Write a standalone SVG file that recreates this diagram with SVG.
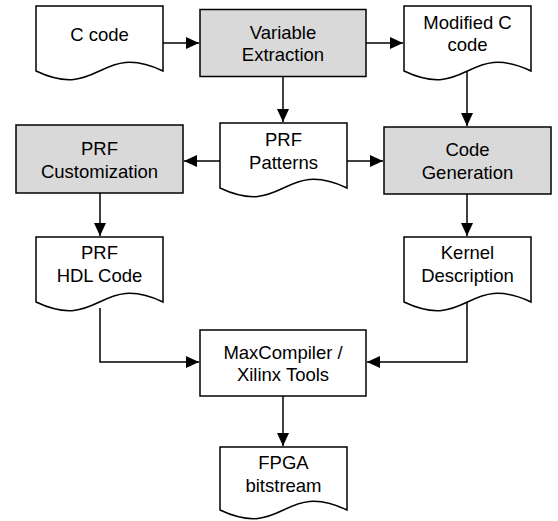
<svg xmlns="http://www.w3.org/2000/svg" width="558" height="521" viewBox="0 0 558 521">
<style>
.doc{fill:#fff;stroke:#000;stroke-width:1.5}
.box{fill:#d9d9d9;stroke:#000;stroke-width:1.5}
.wbox{fill:#fff;stroke:#000;stroke-width:1.5}
.c{fill:none;stroke:#000;stroke-width:1.5}
text{font-family:"Liberation Sans",Arial,sans-serif;font-size:18.5px;text-anchor:middle;fill:#000}
</style>
<defs>
<marker id="ah" markerUnits="userSpaceOnUse" markerWidth="14" markerHeight="12" refX="13" refY="6" orient="auto">
<path d="M0,0 L13,6 L0,12 z" fill="#000"/>
</marker>
</defs>
<rect width="558" height="521" fill="#fff"/>
<g id="connectors">
<path class="c" d="M163,43 H199" marker-end="url(#ah)"/>
<path class="c" d="M366,43 H403" marker-end="url(#ah)"/>
<path class="c" d="M283,76 V122" marker-end="url(#ah)"/>
<path class="c" d="M467,64 V126" marker-end="url(#ah)"/>
<path class="c" d="M220,161 H184" marker-end="url(#ah)"/>
<path class="c" d="M347,161 H383" marker-end="url(#ah)"/>
<path class="c" d="M100,193 V236" marker-end="url(#ah)"/>
<path class="c" d="M467,194 V236" marker-end="url(#ah)"/>
<path class="c" d="M100,308 V362 H199" marker-end="url(#ah)"/>
<path class="c" d="M467,296 V362 H367" marker-end="url(#ah)"/>
<path class="c" d="M283,396 V446" marker-end="url(#ah)"/>
</g>
<g id="ccode">
<path class="doc" d="M36,6 H163 V71 C99.5,41 99.5,101 36,71 Z"/>
<text x="99.5" y="40.5">C code</text>
</g>
<g id="varext">
<rect class="box" x="200" y="9.5" width="166" height="67"/>
<text x="283" y="38.5">Variable</text>
<text x="283" y="60.5">Extraction</text>
</g>
<g id="modc">
<path class="doc" d="M404,6 H531 V71 C467.5,41 467.5,101 404,71 Z"/>
<text x="467.5" y="29">Modified C</text>
<text x="467.5" y="51">code</text>
</g>
<g id="prfcust">
<rect class="box" x="16" y="125" width="167" height="68"/>
<text x="99.5" y="155">PRF</text>
<text x="99.5" y="177.5">Customization</text>
</g>
<g id="patterns">
<path class="doc" d="M220,123 H347 V188 C283.5,158 283.5,218 220,188 Z"/>
<text x="283.5" y="146">PRF</text>
<text x="283.5" y="169">Patterns</text>
</g>
<g id="codegen">
<rect class="box" x="384" y="127" width="167" height="67"/>
<text x="467.5" y="156">Code</text>
<text x="467.5" y="178.5">Generation</text>
</g>
<g id="hdl">
<path class="doc" d="M36,237 H163 V302 C99.5,272 99.5,332 36,302 Z"/>
<text x="99.5" y="259">PRF</text>
<text x="99.5" y="282">HDL Code</text>
</g>
<g id="kernel">
<path class="doc" d="M404,237 H531 V302 C467.5,272 467.5,332 404,302 Z"/>
<text x="467.5" y="259">Kernel</text>
<text x="467.5" y="282">Description</text>
</g>
<g id="maxc">
<rect class="wbox" x="200" y="330" width="166" height="66"/>
<text x="283" y="358.5">MaxCompiler /</text>
<text x="283" y="380.5">Xilinx Tools</text>
</g>
<g id="fpga">
<path class="doc" d="M220,447 H347 V510 C283.5,480 283.5,540 220,510 Z"/>
<text x="283.5" y="469">FPGA</text>
<text x="283.5" y="492">bitstream</text>
</g>
</svg>
